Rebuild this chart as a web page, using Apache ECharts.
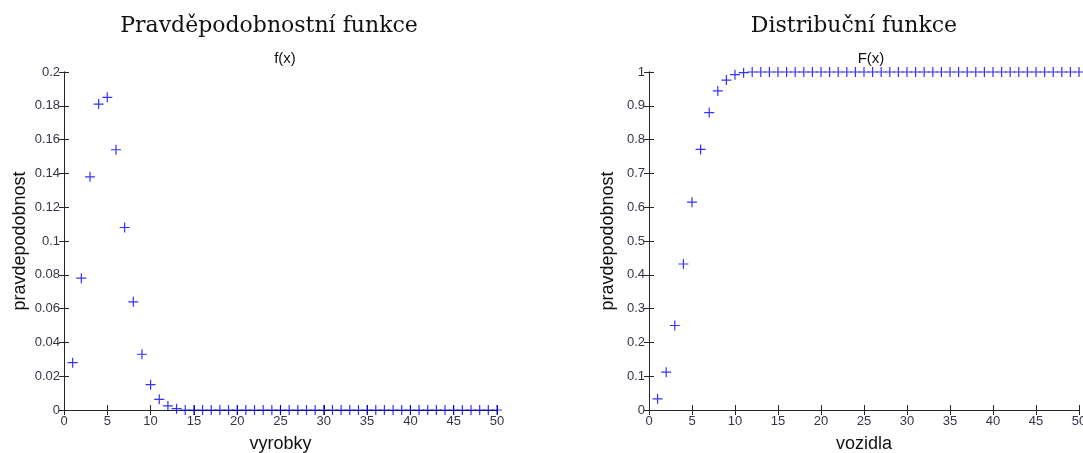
<!DOCTYPE html>
<html>
<head>
<meta charset="utf-8">
<script src="https://cdn.jsdelivr.net/npm/echarts@6/dist/echarts.min.js"></script>
<style>
  html, body { margin: 0; padding: 0; background: #fff; }
  #chart { width: 1083px; height: 453px; }
</style>
</head>
<body>
<div id="chart"></div>
<script>
// hodnoty x (1..50)
const xValues = [];
for (let i = 1; i <= 50; i++) xValues.push(i);

// f(x), od x = 14 uz nula
const pdfValues = [0.028, 0.078, 0.138, 0.181, 0.185, 0.154, 0.108, 0.064, 0.033, 0.015,
  0.0063, 0.0024, 0.0008, 0, 0, 0, 0, 0, 0, 0,
  0, 0, 0, 0, 0, 0, 0, 0, 0, 0,
  0, 0, 0, 0, 0, 0, 0, 0, 0, 0,
  0, 0, 0, 0, 0, 0, 0, 0, 0, 0];

// F(x)
const cdfValues = [0.033, 0.112, 0.25, 0.432, 0.615, 0.771, 0.88, 0.944, 0.976, 0.992,
  0.998, 1, 1, 1, 1, 1, 1, 1, 1, 1,
  1, 1, 1, 1, 1, 1, 1, 1, 1, 1,
  1, 1, 1, 1, 1, 1, 1, 1, 1, 1,
  1, 1, 1, 1, 1, 1, 1, 1, 1, 1];

const xTicks = { min: 0, max: 50, interval: 5 };
const pdfTicks = { min: 0, max: 0.2, interval: 0.02 };
const cdfTicks = { min: 0, max: 1, interval: 0.1 };

const plus = 'path://M0,4.4h10v1.2h-10z M4.4,0h1.2v10h-1.2z';
const axisColor = '#262626';
const labelStyle = { color: '#34344a', fontFamily: 'Liberation Sans, Arial', fontSize: 13 };

function xAxes(grid, name) {
  return [{
    type: 'value', gridIndex: grid, ...xTicks,
    name: name, nameLocation: 'middle', nameGap: 25,
    nameTextStyle: { fontFamily: 'Liberation Sans, Arial', fontSize: 18, color: '#111' },
    axisLine: { lineStyle: { color: axisColor } },
    axisTick: { inside: true, length: 5, lineStyle: { color: axisColor } },
    axisLabel: { ...labelStyle, margin: 5 },
    splitLine: { show: false }
  }, {
    type: 'value', gridIndex: grid, position: 'top', ...xTicks,
    axisLine: { lineStyle: { color: axisColor } },
    axisTick: { inside: true, length: 5, lineStyle: { color: axisColor } },
    axisLabel: { show: false },
    splitLine: { show: false }
  }];
}

function yAxes(grid, ticks, gap) {
  return [{
    type: 'value', gridIndex: grid, ...ticks,
    name: 'pravdepodobnost', nameLocation: 'middle', nameGap: gap,
    nameTextStyle: { fontFamily: 'Liberation Sans, Arial', fontSize: 18, color: '#111' },
    axisLine: { show: true, lineStyle: { color: axisColor } },
    axisTick: { show: true, inside: true, length: 5, lineStyle: { color: axisColor } },
    axisLabel: { ...labelStyle, margin: 4 },
    splitLine: { show: false }
  }, {
    type: 'value', gridIndex: grid, position: 'right', ...ticks,
    axisLine: { show: true, lineStyle: { color: axisColor } },
    axisTick: { show: true, inside: true, length: 5, lineStyle: { color: axisColor } },
    axisLabel: { show: false },
    splitLine: { show: false }
  }];
}

function pairs(ys) {
  return xValues.map((x, i) => [x, ys[i]]);
}

const chart = echarts.init(document.getElementById('chart'));
chart.setOption({
  animation: false,
  title: [
    { text: 'Pravděpodobnostní funkce', left: 264, top: 10, textAlign: 'center',
      textStyle: { fontFamily: 'DejaVu Serif', fontWeight: 'normal', fontSize: 22, color: '#111' } },
    { text: 'Distribuční funkce', left: 849, top: 10, textAlign: 'center',
      textStyle: { fontFamily: 'DejaVu Serif', fontWeight: 'normal', fontSize: 22, color: '#111' } },
    { text: 'f(x)', left: 280, top: 46, textAlign: 'center',
      textStyle: { fontFamily: 'Liberation Sans, Arial', fontWeight: 'normal', fontSize: 15, color: '#111' } },
    { text: 'F(x)', left: 866, top: 46, textAlign: 'center',
      textStyle: { fontFamily: 'Liberation Sans, Arial', fontWeight: 'normal', fontSize: 15, color: '#111' } }
  ],
  grid: [
    { left: 64, top: 72, width: 433, height: 338, outerBoundsMode: 'none' },
    { left: 649, top: 72, width: 430, height: 338, outerBoundsMode: 'none' }
  ],
  xAxis: [...xAxes(0, 'vyrobky'), ...xAxes(1, 'vozidla')],
  yAxis: [...yAxes(0, pdfTicks, 35), ...yAxes(1, cdfTicks, 32)],
  series: [
    { type: 'scatter', xAxisIndex: 0, yAxisIndex: 0, data: pairs(pdfValues),
      symbol: plus, symbolSize: 10, itemStyle: { color: '#0000ff' }, z: 10, clip: false },
    { type: 'scatter', xAxisIndex: 2, yAxisIndex: 2, data: pairs(cdfValues),
      symbol: plus, symbolSize: 10, itemStyle: { color: '#0000ff' }, z: 10, clip: false }
  ]
});
</script>
</body>
</html>
